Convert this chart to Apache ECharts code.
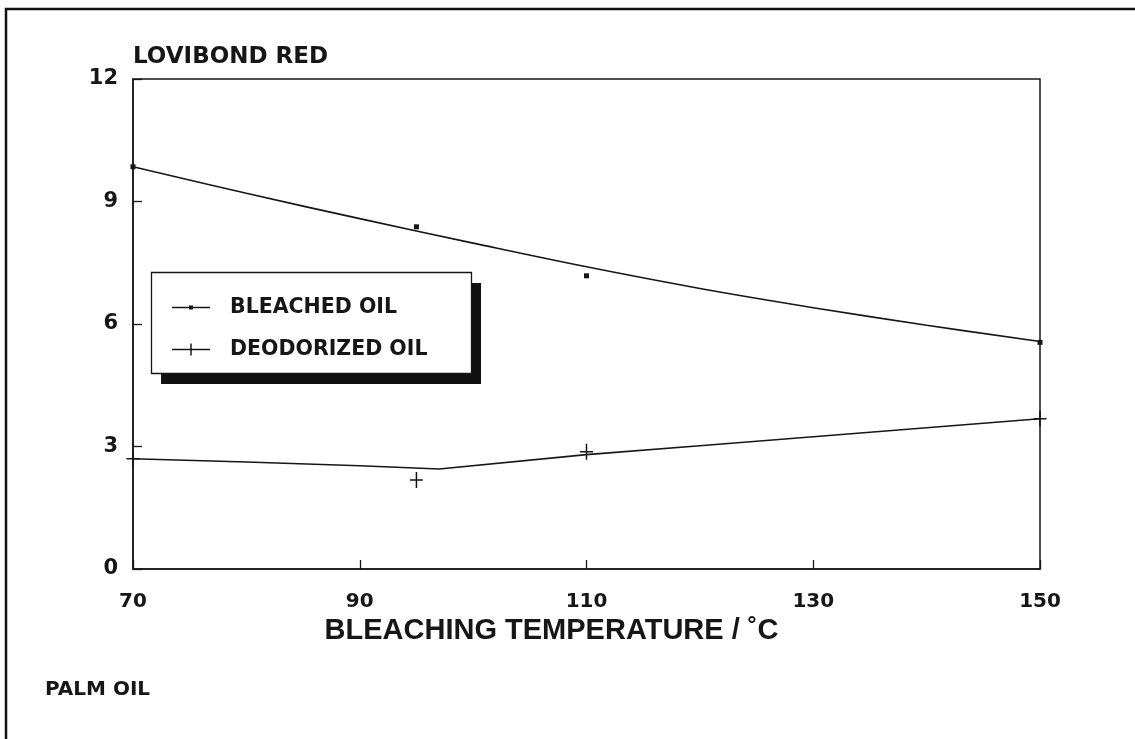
<!DOCTYPE html>
<html>
<head>
<meta charset="utf-8">
<script src="https://cdn.jsdelivr.net/npm/echarts@6/dist/echarts.min.js"></script>
<style>
html,body{margin:0;padding:0;background:#fff;}
#chart{width:1135px;height:739px;}
</style>
</head>
<body>
<div id="chart"></div>
<script>
// ---- data ----
const xTicks = [70, 90, 110, 130, 150];
const yTicks = [0, 3, 6, 9, 12];
// fitted curve of bleached oil
const bleachedCurveX = [70, 80, 90, 100, 110, 120, 130, 140, 150];
const bleachedCurveY = [9.85, 9.20, 8.58, 7.98, 7.40, 6.87, 6.40, 5.97, 5.57];
// measured points of bleached oil
const bleachedPtsX = [70, 95, 110, 150];
const bleachedPtsY = [9.85, 8.38, 7.18, 5.55];
// fitted curve of deodorized oil
const deodCurveX = [70, 80, 90, 97, 110, 120, 130, 140, 150];
const deodCurveY = [2.70, 2.62, 2.53, 2.45, 2.80, 3.02, 3.24, 3.46, 3.68];
// measured points of deodorized oil
const deodPtsX = [70, 95, 110, 150];
const deodPtsY = [2.70, 2.18, 2.87, 3.68];
const seriesNames = ['BLEACHED OIL', 'DEODORIZED OIL'];

const ink = '#161616';
const zip = (a, b) => a.map((v, i) => [v, b[i]]);

const chart = echarts.init(document.getElementById('chart'), null, {renderer: 'canvas'});
const crossPath = 'path://M0,7.25 L13,7.25 L13,8.75 L0,8.75 Z M5.75,0 L7.25,0 L7.25,16 L5.75,16 Z';
const option = {
  backgroundColor: '#ffffff',
  animation: false,
  grid: {
    left: 133, top: 79, right: 95, bottom: 170,
    show: true, borderColor: ink, borderWidth: 1.5, backgroundColor: 'transparent'
  },
  xAxis: {
    type: 'value', min: 70, max: 150, interval: 20,
    name: 'BLEACHING TEMPERATURE / ˚C',
    nameLocation: 'middle', nameGap: 47,
    nameTextStyle: {
      fontFamily: 'Liberation Sans', fontWeight: 'bold', fontSize: 29, color: ink,
      padding: [0, 70, 0, 0]
    },
    axisLine: {show: true, onZero: false, lineStyle: {color: ink, width: 1.5}},
    axisTick: {show: true, inside: true, length: 9, lineStyle: {color: ink, width: 1.3}},
    axisLabel: {
      margin: 23, fontFamily: 'DejaVu Sans', fontWeight: 'bold', fontSize: 20, color: ink,
      customValues: xTicks
    },
    splitLine: {show: false}
  },
  yAxis: {
    type: 'value', min: 0, max: 12, interval: 3,
    name: 'LOVIBOND RED',
    nameLocation: 'end', nameGap: 10,
    nameTextStyle: {
      fontFamily: 'DejaVu Sans', fontWeight: 'bold', fontSize: 23, color: ink,
      align: 'left', verticalAlign: 'bottom'
    },
    axisLine: {show: true, onZero: false, lineStyle: {color: ink, width: 1.5}},
    axisTick: {show: true, inside: true, length: 9, lineStyle: {color: ink, width: 1.3}},
    axisLabel: {
      margin: 15, fontFamily: 'DejaVu Sans', fontWeight: 'bold', fontSize: 21, color: ink
    },
    splitLine: {show: false}
  },
  legend: {
    show: true,
    orient: 'vertical',
    left: 172, top: 297,
    itemWidth: 38, itemHeight: 12, itemGap: 21,
    padding: 0,
    selectedMode: false,
    textStyle: {
      fontFamily: 'DejaVu Sans', fontWeight: 'bold', fontSize: 20.5, color: ink,
      lineHeight: 21, padding: [0, 0, 0, 15]
    },
    itemStyle: {color: ink, borderWidth: 0, opacity: 1},
    data: [
      {name: seriesNames[0], icon: 'path://M0,5.25 L38,5.25 L38,6.75 L0,6.75 Z M17,4 L21,4 L21,8 L17,8 Z M0,0 L0.01,0 L0.01,0.01 Z M0,12 L0.01,12 L0.01,11.99 Z'},
      {name: seriesNames[1], icon: 'path://M0,5.25 L38,5.25 L38,6.75 L0,6.75 Z M18.25,0 L19.75,0 L19.75,12 L18.25,12 Z'}
    ],
    z: 10
  },
  graphic: [
    {type: 'rect', z: 1, silent: true,
     shape: {x: 6, y: 9, width: 1400, height: 1000},
     style: {fill: 'none', stroke: '#111', lineWidth: 2.5}},
    {type: 'rect', z: 5, silent: true,
     shape: {x: 161, y: 283, width: 320, height: 101},
     style: {fill: '#111'}},
    {type: 'rect', z: 6, silent: true,
     shape: {x: 151.5, y: 272.5, width: 320, height: 101},
     style: {fill: '#fff', stroke: ink, lineWidth: 1.3}},
    {type: 'text', z: 6, silent: true, left: 45, top: 680,
     style: {text: 'PALM OIL', fontFamily: 'DejaVu Sans', fontWeight: 'bold', fontSize: 20, fill: ink}}
  ],
  series: [
    {
      name: seriesNames[0], type: 'line', smooth: 0.4,
      data: zip(bleachedCurveX, bleachedCurveY),
      showSymbol: false, symbol: 'none',
      lineStyle: {color: ink, width: 1.6}, itemStyle: {color: ink}, z: 3
    },
    {
      name: 'bleached points', type: 'scatter',
      data: zip(bleachedPtsX, bleachedPtsY),
      symbol: 'rect', symbolSize: 5,
      itemStyle: {color: ink, opacity: 1}, z: 4
    },
    {
      name: seriesNames[1], type: 'line', smooth: false,
      data: zip(deodCurveX, deodCurveY),
      showSymbol: false, symbol: 'none',
      lineStyle: {color: ink, width: 1.6}, itemStyle: {color: ink}, z: 3
    },
    {
      name: 'deodorized points', type: 'scatter',
      data: zip(deodPtsX, deodPtsY),
      symbol: crossPath, symbolSize: [13, 16],
      itemStyle: {color: ink, opacity: 1}, z: 4
    }
  ]
};
chart.setOption(option);
</script>
</body>
</html>
